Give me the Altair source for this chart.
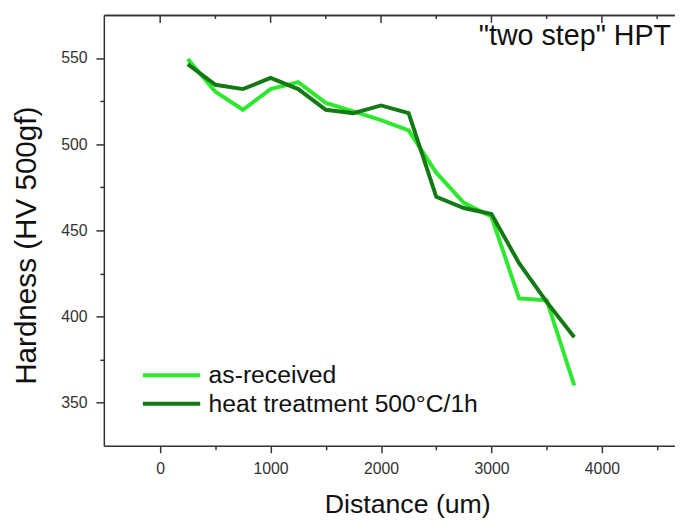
import altair as alt
import pandas as pd

distance = [250, 500, 750, 1000, 1250, 1500, 1750, 2000, 2250, 2500, 2750, 3000, 3250, 3500, 3750]
as_received = [549.5, 530.5, 520, 532, 536, 524, 519, 514, 508, 483.5, 466, 458, 410.5, 409.5, 360]
heat_treated = [546.5, 534.5, 532, 538.5, 532, 520, 518, 522.5, 518, 469.5, 463, 459.5, 431, 408.5, 388]
series = ["as-received", "heat treatment 500°C/1h"]
colors = ["#2ee82e", "#137a13"]
x_ticks = [0, 500, 1000, 1500, 2000, 2500, 3000, 3500, 4000, 4500]
y_ticks = [350, 375, 400, 425, 450, 475, 500, 525, 550]
top_major = [0, 1000, 2000, 3000, 4000]
top_minor = [500, 1500, 2500, 3500, 4500]

FONT = "Liberation Sans"
AX = "#333333"

rows = []
for d, v in zip(distance, as_received):
    rows.append({"distance": d, "hardness": v, "series": series[0]})
for d, v in zip(distance, heat_treated):
    rows.append({"distance": d, "hardness": v, "series": series[1]})
df = pd.DataFrame(rows)

xscale = alt.Scale(domain=[-510, 4662], nice=False, zero=False)
yscale = alt.Scale(domain=[325, 575], nice=False, zero=False)

lines = alt.Chart(df).mark_line(strokeWidth=4).encode(
    x=alt.X("distance:Q", scale=xscale, axis=alt.Axis(
        values=x_ticks, format="d",
        labelExpr="datum.value % 1000 == 0 ? datum.label : ''",
        tickSize={"condition": {"test": "datum.value % 1000 == 0", "value": 7}, "value": 4},
        title="Distance (um)", titleFontSize=27, titleFont=FONT, titleFontWeight="normal",
        titleColor="#111111", titleX=307, titleY=68, titleAlign="center",
        titleBaseline="alphabetic",
        labelFont=FONT, labelFontSize=16, labelColor=AX, labelPadding=8,
        domainColor=AX, domainWidth=1.5, tickColor=AX, tickWidth=1.5, grid=False)),
    y=alt.Y("hardness:Q", scale=yscale, axis=alt.Axis(
        values=y_ticks, format="d",
        labelExpr="datum.value % 50 == 0 ? datum.label : ''",
        tickSize={"condition": {"test": "datum.value % 50 == 0", "value": 8}, "value": 4},
        title="Hardness (HV 500gf)", titleFontSize=30, titleFont=FONT, titleFontWeight="normal",
        titleColor="#111111", titleX=-78, titleY=233, titleAngle=270,
        titleAlign="center", titleBaseline="middle",
        labelFont=FONT, labelFontSize=16, labelColor=AX, labelPadding=9,
        domainColor=AX, domainWidth=1.5, tickColor=AX, tickWidth=1.5, grid=False)),
    color=alt.Color("series:N", scale=alt.Scale(domain=series, range=colors), legend=alt.Legend(
        title=None, orient="none", legendX=56, legendY=352,
        symbolType="M-2.9,0H2.9", symbolSize=400, symbolStrokeWidth=4,
        labelFont=FONT, labelFontSize=25, labelColor="#111111", labelOffset=25,
        rowPadding=3, labelLimit=500)),
)

top_axis = alt.Chart(pd.DataFrame({"t": top_major})).mark_rule(color=AX, strokeWidth=1.5).encode(
    x=alt.X("t:Q", scale=xscale, axis=alt.Axis(orient="top", labels=False, ticks=False,
                                                domainColor=AX, domainWidth=1.5, title=None, grid=False)),
    y=alt.value(0), y2=alt.value(8),
)
top_minor_ticks = alt.Chart(pd.DataFrame({"t": top_minor})).mark_rule(color=AX, strokeWidth=1.5).encode(
    x=alt.X("t:Q", scale=xscale, axis=alt.Axis(orient="top", labels=False, ticks=False,
                                                domainColor=AX, domainWidth=1.5, title=None, grid=False)),
    y=alt.value(0), y2=alt.value(4),
)

chart = alt.layer(lines, top_axis, top_minor_ticks).resolve_axis(x="independent").properties(
    width=578, height=436,
    autosize=alt.AutoSizeParams(type="none"),
    padding={"left": 97, "top": 4, "right": 0, "bottom": 70},
    title=alt.TitleParams('"two step" HPT', anchor="end", font=FONT, fontSize=29,
                          fontWeight="normal", color="#111111", baseline="alphabetic",
                          offset=0, dy=60, dx=-4),
).configure_view(stroke=None).configure(background="white")

chart.save("out.html", embed_options={"renderer": "svg", "actions": False})
